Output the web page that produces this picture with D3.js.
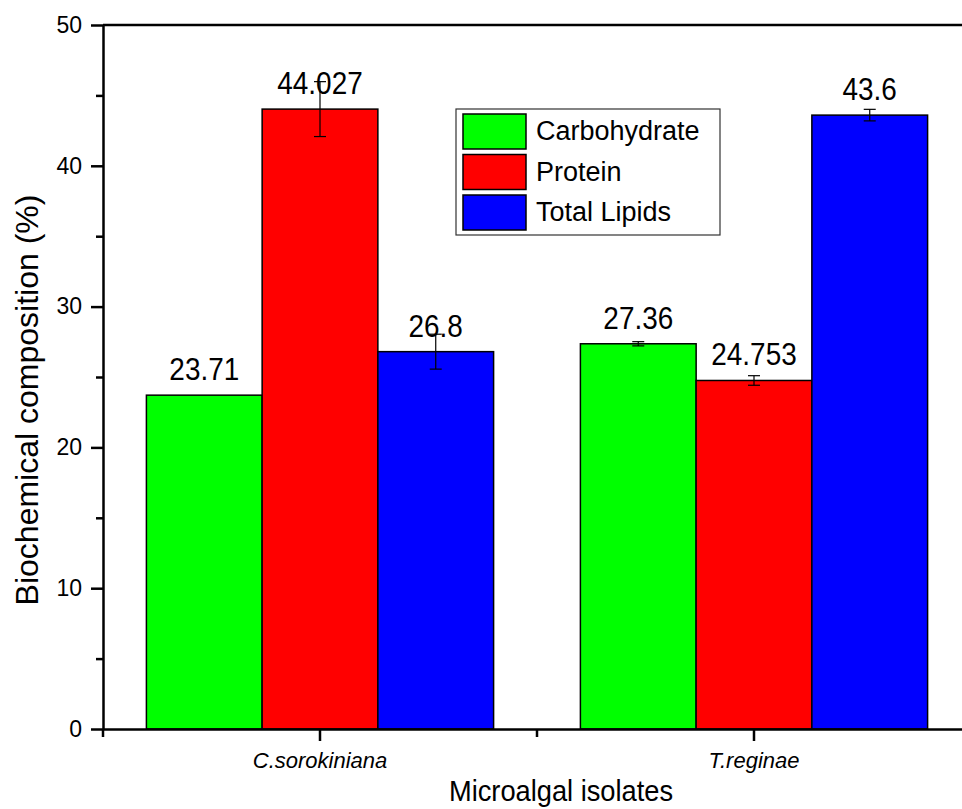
<!DOCTYPE html>
<html>
<head>
<meta charset="utf-8">
<script src="https://cdn.jsdelivr.net/npm/d3@7"></script>
<style>
  body { margin: 0; background: #fff; }
  text { font-family: "Liberation Sans", Arial, sans-serif; fill: #000; }
</style>
</head>
<body>
<svg id="chart" width="962" height="809"></svg>
<script>
// data
var categories = ["C.sorokiniana", "T.reginae"];
var seriesNames = ["Carbohydrate", "Protein", "Total Lipids"];
var carbohydrate = [23.71, 27.36];
var protein = [44.027, 24.753];
var lipids = [26.8, 43.6];
var carbohydrateErr = [0, 0.15];
var proteinErr = [1.95, 0.34];
var lipidsErr = [1.24, 0.41];
var yTicks = [0, 10, 20, 30, 40, 50];
var yMinorTicks = [5, 15, 25, 35, 45];

var colors = ["#00ff00", "#ff0000", "#0000ff"];

var margin = {top: 25, left: 103, bottom: 80};
var plotRight = 971; // right frame is off the picture

var svg = d3.select("#chart");

var data = categories.map(function(c, i) {
  return {
    category: c,
    values: [
      {key: seriesNames[0], value: carbohydrate[i], err: carbohydrateErr[i]},
      {key: seriesNames[1], value: protein[i], err: proteinErr[i]},
      {key: seriesNames[2], value: lipids[i], err: lipidsErr[i]}
    ]
  };
});

var x0 = d3.scaleBand()
  .domain(categories)
  .range([margin.left, plotRight])
  .paddingInner(0.2)
  .paddingOuter(0.1);

var x1 = d3.scaleBand()
  .domain(seriesNames)
  .range([0, x0.bandwidth()]);

var y = d3.scaleLinear()
  .domain([0, 50])
  .range([729, margin.top]);

var z = d3.scaleOrdinal().domain(seriesNames).range(colors);

// bars
var group = svg.selectAll(".group")
  .data(data)
  .enter().append("g")
    .attr("class", "group")
    .attr("transform", function(d) { return "translate(" + x0(d.category) + ",0)"; });

group.selectAll("rect")
  .data(function(d) { return d.values; })
  .enter().append("rect")
    .attr("x", function(d) { return x1(d.key); })
    .attr("y", function(d) { return y(d.value); })
    .attr("width", x1.bandwidth())
    .attr("height", function(d) { return y(0) - y(d.value); })
    .attr("fill", function(d) { return z(d.key); })
    .attr("stroke", "#000")
    .attr("stroke-width", 1.5);

// error bars
var eb = group.selectAll(".err")
  .data(function(d) { return d.values.filter(function(v) { return v.err > 0; }); })
  .enter().append("g")
    .attr("class", "err")
    .attr("stroke", "#000")
    .attr("stroke-width", 1.2);

eb.append("line")
  .attr("x1", function(d) { return x1(d.key) + x1.bandwidth() / 2; })
  .attr("x2", function(d) { return x1(d.key) + x1.bandwidth() / 2; })
  .attr("y1", function(d) { return y(d.value + d.err); })
  .attr("y2", function(d) { return y(d.value - d.err); });

[1, -1].forEach(function(s) {
  eb.append("line")
    .attr("x1", function(d) { return x1(d.key) + x1.bandwidth() / 2 - 6; })
    .attr("x2", function(d) { return x1(d.key) + x1.bandwidth() / 2 + 6; })
    .attr("y1", function(d) { return y(d.value + s * d.err); })
    .attr("y2", function(d) { return y(d.value + s * d.err); });
});

// value labels
group.selectAll(".val")
  .data(function(d) { return d.values; })
  .enter().append("text")
    .attr("class", "val")
    .attr("transform", function(d) {
      return "translate(" + (x1(d.key) + x1.bandwidth() / 2) + "," + (y(d.value) - 15) + ") scale(0.9,1)";
    })
    .attr("text-anchor", "middle")
    .style("font-size", "31px")
    .text(function(d) { return String(d.value); });

// y axis
var yAxis = svg.append("g")
  .attr("transform", "translate(" + margin.left + ",0)")
  .call(d3.axisLeft(y).tickValues(yTicks).tickFormat(d3.format("d")).tickSize(12).tickSizeOuter(0).tickPadding(9));
yAxis.select(".domain").attr("stroke-width", 2.5);
yAxis.selectAll(".tick line").attr("stroke-width", 2.5);
yAxis.selectAll(".tick text").style("font-size", "23px");

var yMinor = svg.append("g")
  .attr("transform", "translate(" + margin.left + ",0)")
  .call(d3.axisLeft(y).tickValues(yMinorTicks).tickFormat("").tickSize(7).tickSizeOuter(0));
yMinor.select(".domain").remove();
yMinor.selectAll(".tick line").attr("stroke-width", 2.5);

// x axis
var xAxis = svg.append("g")
  .attr("transform", "translate(0," + y(0) + ")")
  .call(d3.axisBottom(x0).tickSize(12).tickSizeOuter(0).tickPadding(11));
xAxis.select(".domain").attr("stroke-width", 2.5);
xAxis.selectAll(".tick line").attr("stroke-width", 2.5);
xAxis.selectAll(".tick text").style("font-size", "22px").style("font-style", "italic");

// minor ticks at the band edges
var edges = [margin.left, (x0(categories[0]) + x0.bandwidth() + x0(categories[1])) / 2, plotRight];
svg.append("g").selectAll("line")
  .data(edges)
  .enter().append("line")
    .attr("x1", function(d) { return d; })
    .attr("x2", function(d) { return d; })
    .attr("y1", y(0))
    .attr("y2", y(0) + 8)
    .attr("stroke", "#000")
    .attr("stroke-width", 2.5);

// top frame
svg.append("line")
  .attr("x1", margin.left)
  .attr("x2", plotRight)
  .attr("y1", y(50))
  .attr("y2", y(50))
  .attr("stroke", "#000")
  .attr("stroke-width", 2.5);

// axis titles
svg.append("text")
  .attr("transform", "translate(38,400) rotate(-90)")
  .attr("text-anchor", "middle")
  .style("font-size", "32px")
  .text("Biochemical composition (%)");

svg.append("text")
  .attr("transform", "translate(561,801) scale(0.94,1)")
  .attr("text-anchor", "middle")
  .style("font-size", "29px")
  .text("Microalgal isolates");

// legend
var legend = svg.append("g").attr("transform", "translate(456,109)");
legend.append("rect")
  .attr("width", 264)
  .attr("height", 126)
  .attr("fill", "#fff")
  .attr("stroke", "#333")
  .attr("stroke-width", 1.2);

var item = legend.selectAll(".item")
  .data(seriesNames)
  .enter().append("g")
    .attr("class", "item")
    .attr("transform", function(d, i) { return "translate(7," + (5 + i * 40.5) + ")"; });

item.append("rect")
  .attr("width", 63)
  .attr("height", 35)
  .attr("fill", function(d) { return z(d); })
  .attr("stroke", "#000")
  .attr("stroke-width", 1.5);

item.append("text")
  .attr("x", 73)
  .attr("y", 26)
  .style("font-size", "27px")
  .text(function(d) { return d; });
</script>
</body>
</html>
